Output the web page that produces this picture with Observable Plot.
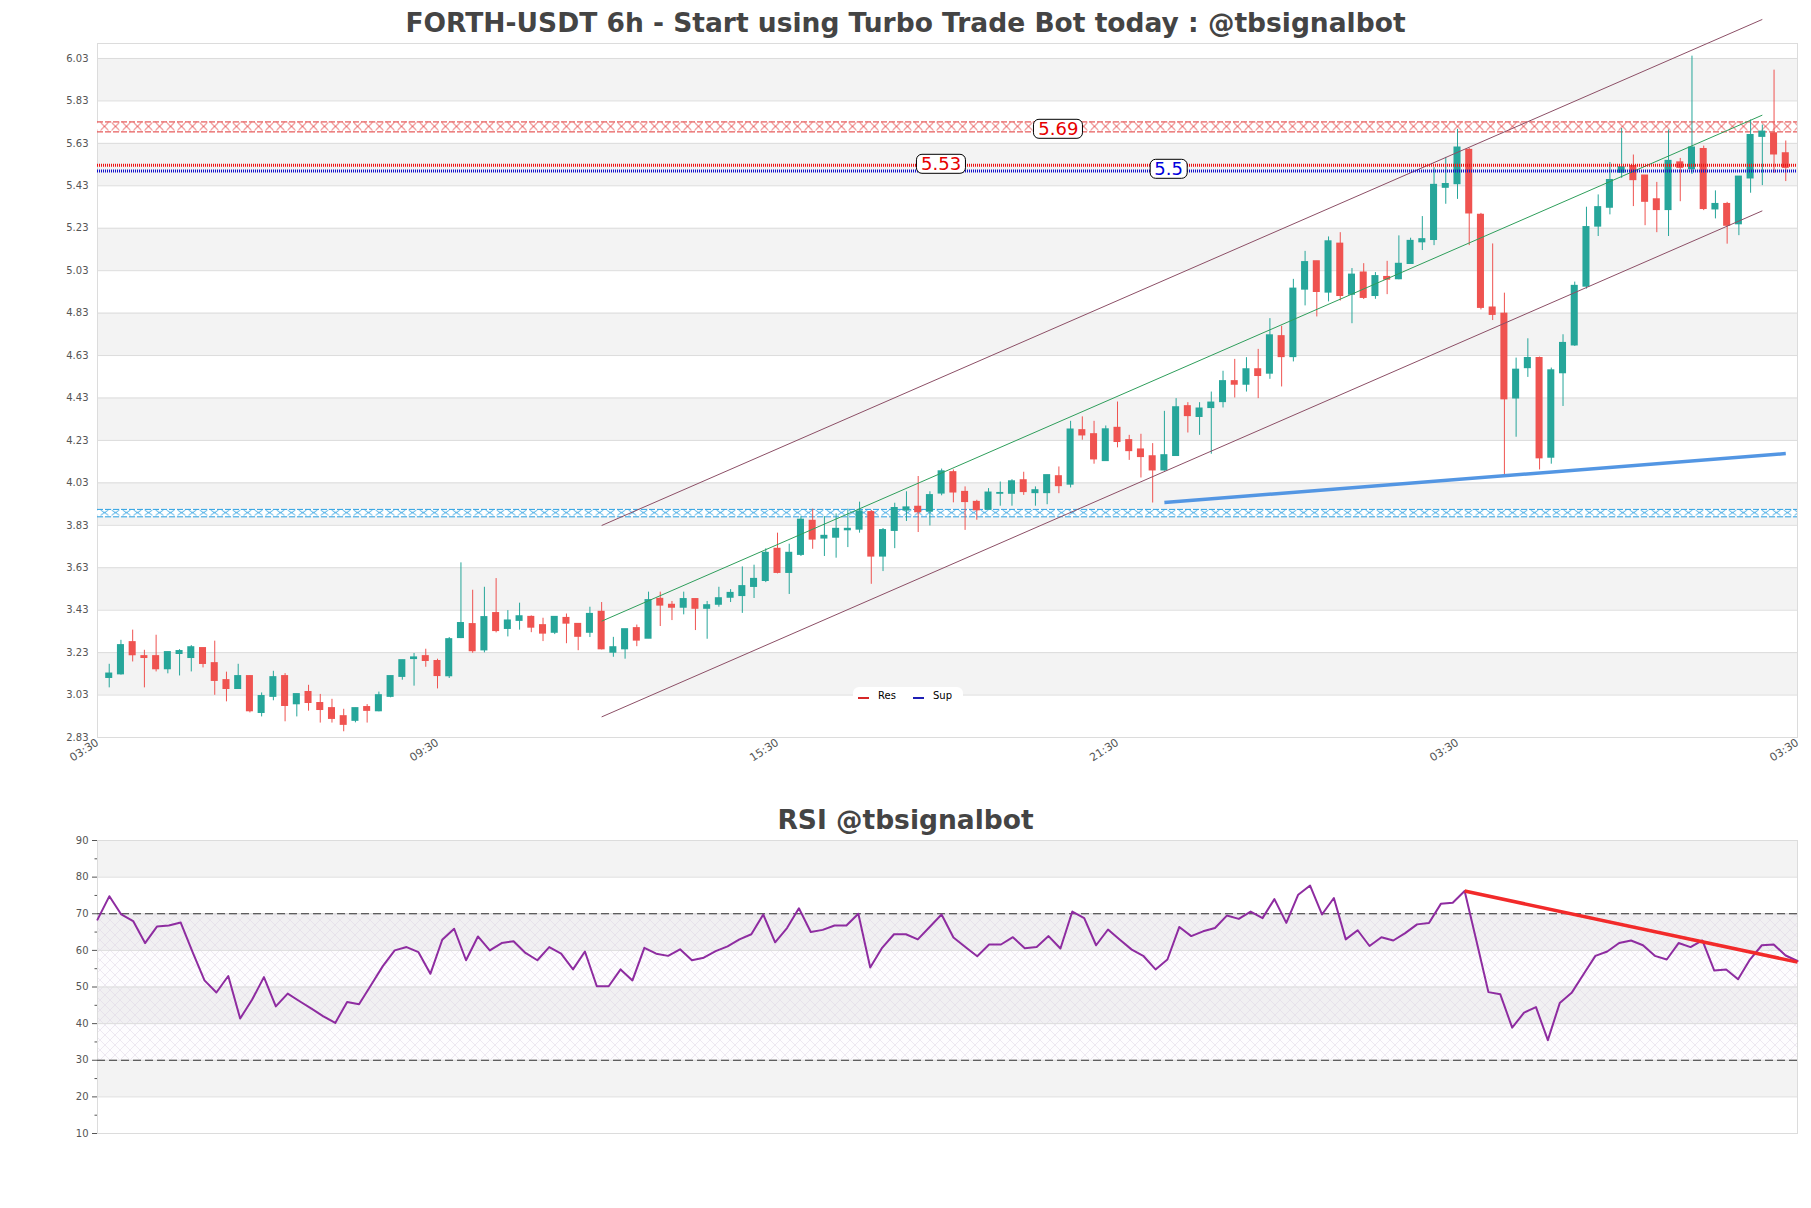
<!DOCTYPE html>
<html><head><meta charset="utf-8">
<script src="https://cdn.jsdelivr.net/npm/d3@7"></script>
<script src="https://cdn.jsdelivr.net/npm/@observablehq/plot@0.6"></script>
<style>
html,body{margin:0;padding:0;background:#fff;overflow:hidden;}
#wrap{position:relative;width:1811px;height:1208px;font-family:"DejaVu Sans",sans-serif;}
#wrap svg{position:absolute;left:0;max-width:none;}
.title{position:absolute;left:0;width:1811px;text-align:center;font-weight:700;color:#444;font-size:26.5px;line-height:1;white-space:nowrap;}
.lbl{position:absolute;transform:translate(-50%,-56%);background:#fff;border:1px solid #000;border-radius:6px;font-size:18px;line-height:18px;padding:0 4px;font-family:"DejaVu Sans";white-space:nowrap;}
.legend{position:absolute;background:#fff;border-radius:6px;font-size:10px;font-family:"DejaVu Sans";color:#000;}
.legend span{position:absolute;}
</style></head><body><div id="wrap"></div>
<script>
// ---------- DATA ----------
const candleOpen = [3.111,3.128,3.279,3.213,3.213,3.152,3.224,3.205,3.251,3.180,3.100,3.059,3.119,2.946,3.022,3.119,2.987,3.044,2.992,2.968,2.930,2.909,2.973,2.954,3.022,3.116,3.200,3.213,3.190,3.119,3.299,3.364,3.241,3.416,3.342,3.380,3.398,3.359,3.324,3.393,3.365,3.324,3.422,3.230,3.246,3.345,3.296,3.483,3.455,3.442,3.482,3.437,3.456,3.489,3.497,3.540,3.568,3.719,3.606,3.691,3.851,3.768,3.772,3.807,3.810,3.892,3.683,3.804,3.900,3.917,3.895,3.980,4.080,3.987,3.940,3.904,3.979,3.979,4.042,3.982,3.982,4.061,4.022,4.278,4.259,4.133,4.289,4.231,4.187,4.155,4.089,4.157,4.391,4.341,4.383,4.411,4.509,4.493,4.565,4.545,4.721,4.623,4.941,5.074,4.927,5.157,4.917,5.021,4.911,5.000,4.990,5.062,5.164,5.175,5.421,5.438,5.599,5.293,4.856,4.827,4.428,4.571,4.618,4.149,4.547,4.678,4.955,5.238,5.327,5.492,5.523,5.478,5.366,5.316,5.540,5.508,5.603,5.319,5.344,5.249,5.465,5.661,5.677,5.583];
const candleHigh = [3.175,3.288,3.336,3.241,3.312,3.232,3.244,3.263,3.251,3.284,3.138,3.175,3.119,3.040,3.142,3.131,3.034,3.076,3.033,3.010,2.963,2.968,2.985,3.044,3.119,3.194,3.226,3.246,3.199,3.301,3.653,3.524,3.538,3.579,3.428,3.463,3.403,3.392,3.398,3.412,3.365,3.444,3.466,3.302,3.340,3.360,3.515,3.515,3.471,3.515,3.482,3.471,3.538,3.527,3.634,3.642,3.719,3.793,3.741,3.871,3.906,3.871,3.884,3.906,3.939,3.900,3.815,3.934,3.988,4.060,3.988,4.095,4.091,4.011,3.948,4.003,4.034,4.045,4.080,4.011,4.066,4.105,4.320,4.341,4.320,4.298,4.411,4.254,4.259,4.215,4.367,4.427,4.408,4.408,4.458,4.556,4.612,4.620,4.659,4.804,4.768,4.989,5.121,5.074,5.189,5.209,5.040,5.063,5.021,5.074,5.194,5.183,5.285,5.515,5.564,5.696,5.606,5.300,5.156,4.924,4.618,4.709,4.623,4.571,4.728,4.976,5.329,5.387,5.540,5.700,5.575,5.478,5.446,5.693,5.559,6.041,5.617,5.406,5.352,5.473,5.740,5.716,5.975,5.641];
const candleLow = [3.064,3.124,3.186,3.064,3.139,3.130,3.120,3.139,3.158,3.029,2.998,3.059,2.946,2.927,3.003,2.904,2.927,2.954,2.898,2.898,2.857,2.899,2.898,2.951,3.017,3.100,3.072,3.161,3.059,3.108,3.296,3.227,3.229,3.323,3.304,3.336,3.324,3.282,3.315,3.272,3.239,3.301,3.243,3.208,3.199,3.258,3.296,3.353,3.381,3.408,3.334,3.293,3.444,3.466,3.415,3.485,3.560,3.601,3.504,3.683,3.717,3.683,3.675,3.725,3.793,3.552,3.612,3.720,3.848,3.796,3.827,3.969,3.936,3.806,3.854,3.904,3.920,3.920,3.971,3.920,3.927,3.979,4.006,4.231,4.118,4.133,4.195,4.136,4.053,3.935,4.085,4.157,4.265,4.254,4.165,4.383,4.430,4.458,4.427,4.518,4.482,4.600,4.864,4.812,4.883,4.887,4.780,4.894,4.895,4.917,4.987,5.062,5.125,5.148,5.343,5.366,5.148,4.845,4.795,4.068,4.245,4.527,4.091,4.118,4.390,4.673,4.943,5.191,5.293,5.465,5.332,5.242,5.209,5.191,5.355,5.484,5.313,5.274,5.155,5.195,5.395,5.431,5.489,5.450];
const candleClose = [3.131,3.265,3.218,3.205,3.152,3.232,3.237,3.255,3.177,3.097,3.059,3.119,2.954,3.025,3.114,2.979,3.034,2.993,2.960,2.918,2.890,2.968,2.956,3.029,3.119,3.194,3.207,3.191,3.120,3.293,3.369,3.237,3.397,3.332,3.381,3.401,3.348,3.320,3.398,3.367,3.305,3.412,3.246,3.255,3.340,3.287,3.477,3.452,3.442,3.482,3.437,3.453,3.486,3.511,3.543,3.577,3.700,3.606,3.700,3.856,3.763,3.780,3.813,3.813,3.895,3.683,3.807,3.911,3.914,3.892,3.972,4.084,3.985,3.940,3.901,3.984,3.982,4.037,3.987,3.995,4.066,4.015,4.281,4.254,4.141,4.282,4.223,4.180,4.152,4.089,4.160,4.386,4.345,4.380,4.408,4.509,4.493,4.565,4.534,4.725,4.623,4.945,5.070,4.930,5.168,4.911,5.011,4.902,5.004,4.988,5.062,5.170,5.178,5.434,5.438,5.610,5.300,4.855,4.822,4.424,4.563,4.618,4.146,4.560,4.689,4.958,5.235,5.329,5.457,5.517,5.457,5.355,5.316,5.547,5.515,5.610,5.321,5.344,5.242,5.473,5.669,5.685,5.578,5.515];

const rsiValues = [68.4,74.8,69.8,68.0,62.0,66.5,66.8,67.6,59.5,51.8,48.5,53.0,41.4,46.5,52.7,44.7,48.2,46.1,44.1,42.0,40.2,45.9,45.3,50.5,55.7,60.0,60.9,59.5,53.6,62.9,65.9,57.3,63.8,60.0,62.0,62.5,59.3,57.3,60.9,59.1,54.8,59.7,50.2,50.2,54.8,51.8,60.7,59.1,58.5,60.3,57.3,58.0,59.8,61.1,63.0,64.4,69.8,62.2,66.1,71.5,65.0,65.6,66.8,66.8,70.0,55.3,60.7,64.4,64.4,63.0,66.4,69.8,63.5,60.9,58.4,61.6,61.6,63.6,60.6,60.9,63.9,60.5,70.6,68.8,61.4,65.7,62.9,60.2,58.4,54.8,57.5,66.4,63.9,65.2,66.1,69.5,68.6,70.6,68.8,74.0,67.5,75.2,77.7,69.8,74.3,63.0,65.5,61.2,63.6,62.7,64.7,67.1,67.5,72.7,73.0,76.2,62.5,48.6,48.0,38.9,43.0,44.5,35.5,45.6,48.4,53.5,58.5,59.7,62.0,62.7,61.4,58.5,57.5,62.0,60.9,62.7,54.5,54.8,52.1,57.5,61.4,61.6,58.6,57.1];

const priceTicks = [2.83,3.03,3.23,3.43,3.63,3.83,4.03,4.23,4.43,4.63,4.83,5.03,5.23,5.43,5.63,5.83,6.03];
const timeTickIdx = [-1,28,57,86,115,144];
const timeTickLabels = ["03:30","09:30","15:30","21:30","03:30","03:30"];
const rsiTicks = [10,20,30,40,50,60,70,80,90];
const rsiMinorTicks = [15,25,35,45,55,65,75,85];

// levels
const resZone = [5.684, 5.731];      // hatched resistance zone
const supZone = [3.870, 3.905];      // hatched support zone
const resLevel = 5.527, supLevel = 5.5;
const levelLabels = ["5.69","5.53","5.5"];
const levelLabelValues = [5.69, 5.527, 5.5];
const levelLabelIdx = [81, 71, 90.4];
// channel (index, price)
const channelIdx = [42, 141];
const channelUpper = [3.829, 6.214];
const channelMid = [3.378, 5.763];
const channelLower = [2.927, 5.312];
const supportTrendIdx = [90, 143];
const supportTrendVal = [3.937, 4.168];
const rsiTrendIdx = [115, 143];
const rsiTrendVal = [76.2, 56.8];

// ---------- BUILD ----------
const UP = "#26a69a", DOWN = "#ef5350";
const xDom = [-1, 144];
const candles = candleOpen.map((o, i) => ({i, o, h: candleHigh[i], l: candleLow[i], c: candleClose[i]}));
const ups = candles.filter(d => d.c >= d.o), downs = candles.filter(d => d.c < d.o);
const bands = d3.range(priceTicks.length - 1).filter(k => k % 2 === 1).map(k => ({lo: priceTicks[k], hi: priceTicks[k + 1]}));
const seg = (idx, vals, name) => ({name, x1: idx[0], y1: vals[0], x2: idx[1], y2: vals[1]});
const channel = [seg(channelIdx, channelUpper, "u"), seg(channelIdx, channelLower, "l")];
const mid = [seg(channelIdx, channelMid, "m")];
const supTrend = [seg(supportTrendIdx, supportTrendVal, "s")];

const main = Plot.plot({
  width: 1811, height: 800,
  marginLeft: 97, marginRight: 14, marginTop: 43, marginBottom: 63,
  style: {fontFamily: "DejaVu Sans", fontSize: "10px", color: "#555", background: "transparent"},
  x: {domain: xDom},
  y: {domain: [2.83, 6.1006]},
  marks: [
    Plot.rect(bands, {x1: () => xDom[0], x2: () => xDom[1], y1: "lo", y2: "hi", fill: "#f3f3f3"}),
    Plot.ruleY(priceTicks, {stroke: "#dcdcdc", strokeWidth: 1}),
    Plot.frame({stroke: "#dcdcdc"}),
    Plot.axisY({ticks: priceTicks, tickFormat: d3.format(".2f"), tickSize: 0, tickPadding: 9, label: null}),
    Plot.axisX({ticks: timeTickIdx, tickFormat: d => timeTickLabels[timeTickIdx.indexOf(d)], tickRotate: -33, tickSize: 0, tickPadding: 4, label: null, fontSize: 11}),
    // hatched zones (beneath candles)
    Plot.rect([resZone], {x1: () => xDom[0], x2: () => xDom[1], y1: d => d[0], y2: d => d[1], fill: "url(#hatchRed)", ariaLabel: "zone-red"}),
    Plot.ruleY(resZone, {stroke: "#e03333", strokeWidth: 1, strokeDasharray: "6,2"}),
    Plot.rect([supZone], {x1: () => xDom[0], x2: () => xDom[1], y1: d => d[0], y2: d => d[1], fill: "url(#hatchBlue)", ariaLabel: "zone-blue"}),
    Plot.ruleY(supZone, {stroke: "#2b9fe0", strokeWidth: 1, strokeDasharray: "6,2"}),
    // candles
    Plot.ruleX(ups, {x: "i", y1: "l", y2: "h", stroke: UP, strokeWidth: 1}),
    Plot.ruleX(downs, {x: "i", y1: "l", y2: "h", stroke: DOWN, strokeWidth: 1}),
    Plot.rect(ups, {x1: d => d.i - 0.3, x2: d => d.i + 0.3, y1: "o", y2: "c", fill: UP, insetTop: -0.6, insetBottom: -0.6}),
    Plot.rect(downs, {x1: d => d.i - 0.3, x2: d => d.i + 0.3, y1: "c", y2: "o", fill: DOWN, insetTop: -0.6, insetBottom: -0.6}),
    // channel
    Plot.link(channel, {x1: "x1", y1: "y1", x2: "x2", y2: "y2", stroke: "#8c4f66", strokeWidth: 1}),
    Plot.link(mid, {x1: "x1", y1: "y1", x2: "x2", y2: "y2", stroke: "#2e9e5b", strokeWidth: 1}),
    Plot.link(supTrend, {x1: "x1", y1: "y1", x2: "x2", y2: "y2", stroke: "#4a90e2", strokeWidth: 3.5, strokeOpacity: 0.95}),
    // dotted levels
    Plot.ruleY([resLevel], {stroke: "#ee1111", strokeWidth: 3, strokeDasharray: "1,1"}),
    Plot.ruleY([supLevel], {stroke: "#1010cc", strokeWidth: 3, strokeDasharray: "1,1"})
  ]
});
const wrap = document.getElementById("wrap");
main.style.top = "0px";
wrap.appendChild(main);

const ys = main.scale("y"), xs = main.scale("x");
function addHatch(svg, id, y0, h, color, w) {
  let defs = d3.select(svg).select("defs");
  if (defs.empty()) defs = d3.select(svg).insert("defs", ":first-child");
  const p = defs.append("pattern").attr("id", id).attr("patternUnits", "userSpaceOnUse")
    .attr("x", 0).attr("y", y0).attr("width", w).attr("height", h);
  p.append("rect").attr("width", w).attr("height", h).attr("fill", "#fff");
  p.append("path").attr("d", `M1.5,1L${w - 1.5},${h - 1}M${w - 1.5},1L1.5,${h - 1}`).attr("stroke", color).attr("stroke-width", 0.9).attr("fill", "none");
}
{
  const t = ys.apply(resZone[1]), b = ys.apply(resZone[0]);
  addHatch(main, "hatchRed", t, b - t, "#e03333", 11);
  const t2 = ys.apply(supZone[1]), b2 = ys.apply(supZone[0]);
  addHatch(main, "hatchBlue", t2, b2 - t2, "#2b9fe0", 11);
  d3.select(main).select('g[aria-label="zone-red"]').selectAll("rect").attr("fill", "url(#hatchRed)");
  d3.select(main).select('g[aria-label="zone-blue"]').selectAll("rect").attr("fill", "url(#hatchBlue)");
}

// level labels
const labelColors = ["#e60000", "#e60000", "#0000dd"];
levelLabels.forEach((t, k) => {
  const el = document.createElement("div");
  el.className = "lbl";
  el.textContent = t;
  el.style.color = labelColors[k];
  el.style.left = xs.apply(levelLabelIdx[k]) + "px";
  el.style.top = ys.apply(levelLabelValues[k]) + "px";
  wrap.appendChild(el);
});

// legend
{
  const lg = document.createElement("div");
  lg.className = "legend";
  lg.style.left = "853px"; lg.style.top = "687px"; lg.style.width = "110px"; lg.style.height = "19px";
  lg.innerHTML = '<span style="left:5px;top:10px;width:11px;height:2px;background:#d62728"></span>' +
    '<span style="left:25px;top:3px">Res</span>' +
    '<span style="left:60px;top:10px;width:11px;height:2px;background:#1f1fb4"></span>' +
    '<span style="left:80px;top:3px">Sup</span>';
  wrap.appendChild(lg);
}

// ---------- RSI ----------
const rsi = rsiValues.map((v, j) => ({j, v}));
const rsiBands = [[80, 90], [60, 70], [40, 50], [20, 30]];
const rsiTrend = [seg(rsiTrendIdx, rsiTrendVal, "r")];
const rsiDom = [0, rsiValues.length - 1];
const rsiPlot = Plot.plot({
  width: 1811, height: 408,
  marginLeft: 97, marginRight: 14, marginTop: 40, marginBottom: 75,
  style: {fontFamily: "DejaVu Sans", fontSize: "10px", color: "#555", background: "transparent"},
  x: {domain: rsiDom, axis: null},
  y: {domain: [10, 90]},
  marks: [
    Plot.rect(rsiBands, {x1: () => rsiDom[0], x2: () => rsiDom[1], y1: d => d[0], y2: d => d[1], fill: "#f3f3f3"}),
    Plot.rect([[30, 70]], {x1: () => rsiDom[0], x2: () => rsiDom[1], y1: d => d[0], y2: d => d[1], fill: "url(#hatchRsi)", ariaLabel: "zone-rsi"}),
    Plot.ruleY(rsiTicks, {stroke: "#dcdcdc"}),
    Plot.frame({stroke: "#dcdcdc"}),
    Plot.axisY({ticks: rsiTicks, tickSize: 5, tickPadding: 4, label: null}),
    Plot.axisY({ticks: rsiMinorTicks, tickSize: 2.5, tickFormat: () => "", label: null}),
    Plot.ruleY([30, 70], {stroke: "#333", strokeWidth: 1.2, strokeDasharray: "8,4"}),
    Plot.line(rsi, {x: "j", y: "v", stroke: "#8e2ca0", strokeWidth: 2}),
    Plot.link(rsiTrend, {x1: "x1", y1: "y1", x2: "x2", y2: "y2", stroke: "#f22a2a", strokeWidth: 3.5})
  ]
});
rsiPlot.style.top = "800px";
wrap.appendChild(rsiPlot);
{
  let defs = d3.select(rsiPlot).insert("defs", ":first-child");
  const p = defs.append("pattern").attr("id", "hatchRsi").attr("patternUnits", "userSpaceOnUse")
    .attr("x", 0).attr("y", 0).attr("width", 10).attr("height", 10);
  p.append("rect").attr("width", 10).attr("height", 10).attr("fill", "rgba(170,120,200,0.025)");
  p.append("path").attr("d", "M0,0L10,10M10,0L0,10").attr("stroke", "#ddd3e2").attr("stroke-width", 0.5).attr("fill", "none");
  d3.select(rsiPlot).select('g[aria-label="zone-rsi"]').selectAll("rect").attr("fill", "url(#hatchRsi)");
}

// titles
const t1 = document.createElement("div");
t1.className = "title"; t1.style.top = "10px";
t1.textContent = "FORTH-USDT 6h - Start using Turbo Trade Bot today : @tbsignalbot";
wrap.appendChild(t1);
const t2 = document.createElement("div");
t2.className = "title"; t2.style.top = "807px";
t2.textContent = "RSI @tbsignalbot";
wrap.appendChild(t2);
</script></body></html>
